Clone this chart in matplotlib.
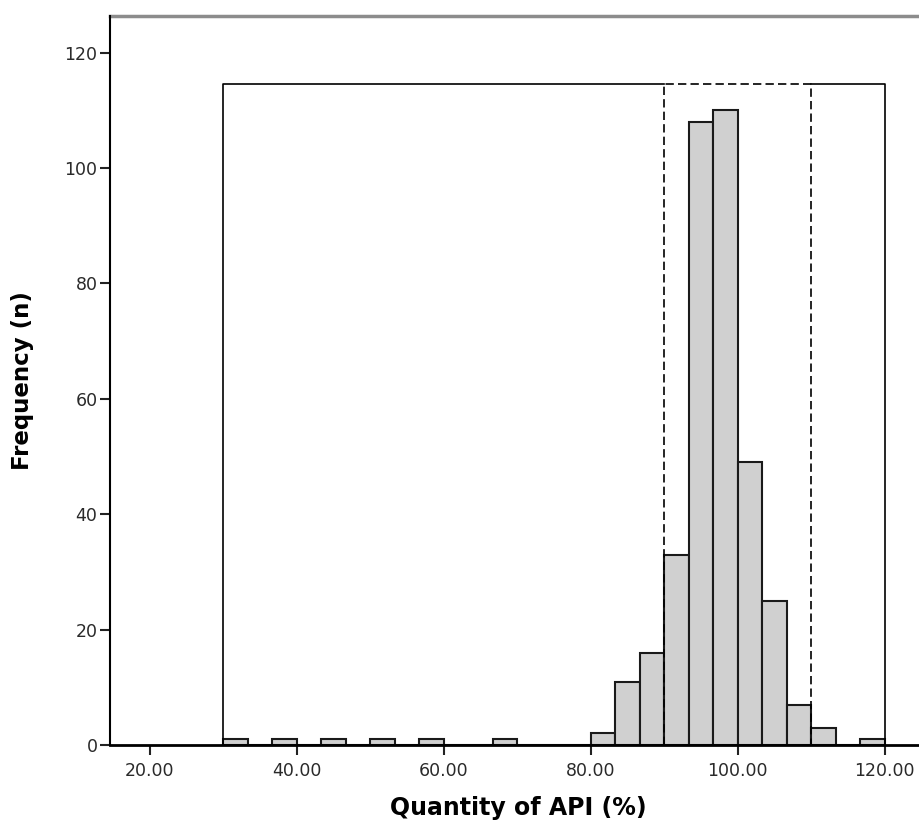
import matplotlib.pyplot as plt
import numpy as np

# histogram of API quantity, 27 bins from 30 to 120
bin_start = 30.0
bin_stop = 120.0
counts = [1, 0, 1, 0, 1, 0, 1, 0, 1, 0, 0, 1, 0, 0, 0,
          2, 11, 16, 33, 108, 110, 49, 25, 7, 3, 0, 1]

# spec limits (dashed) and frame height
spec_low = 90.0
spec_high = 110.0
frame_top = 114.5

x_ticks = [20, 40, 60, 80, 100, 120]
y_ticks = [0, 20, 40, 60, 80, 100, 120]

edges = np.linspace(bin_start, bin_stop, len(counts) + 1)
widths = np.diff(edges)

fig = plt.figure(figsize=(9.19, 8.25), dpi=100)
ax = fig.add_axes([110 / 919, 1 - 745 / 825, 816 / 919, (745 - 15.7) / 825])

ax.bar(edges[:-1], counts, width=widths, align="edge",
       color="#d0d0d0", edgecolor="#1a1a1a", linewidth=1.5, zorder=2)

# outer frame (solid) with the spec range drawn dashed
ax.plot([bin_start, bin_start, spec_low], [0, frame_top, frame_top],
        color="black", linewidth=1.2, zorder=3)
ax.plot([spec_high, bin_stop, bin_stop], [frame_top, frame_top, 0],
        color="black", linewidth=1.2, zorder=3)
ax.plot([spec_low, spec_low, spec_high, spec_high], [0, frame_top, frame_top, 0],
        color="black", linewidth=1.2, linestyle=(0, (5, 2.5)), zorder=4)

ax.set_xlim(14.56, 125.6)
ax.set_ylim(0, 126.4)

ax.set_xticks(x_ticks)
ax.set_xticklabels([f"{t:.2f}" for t in x_ticks])
ax.set_yticks(y_ticks)
ax.set_yticklabels([str(t) for t in y_ticks])
ax.tick_params(axis="both", direction="out", length=7, width=1.5,
               labelsize=12.5, labelcolor="#2a2a2a", color="#222222")
ax.tick_params(axis="x", pad=5)
ax.tick_params(axis="y", pad=2)

ax.spines["right"].set_visible(False)
ax.spines["top"].set_color("#8c8c8c")
ax.spines["top"].set_linewidth(2.5)
ax.spines["left"].set_linewidth(1.5)
ax.spines["bottom"].set_linewidth(2.0)
ax.spines["left"].set_zorder(5)
ax.spines["bottom"].set_zorder(5)

ax.set_xlabel("Quantity of API (%)", fontsize=17, fontweight="bold", labelpad=12)
ax.set_ylabel("Frequency (n)", fontsize=16.5, fontweight="bold", labelpad=22)

fig.savefig("out.png", dpi=100)
